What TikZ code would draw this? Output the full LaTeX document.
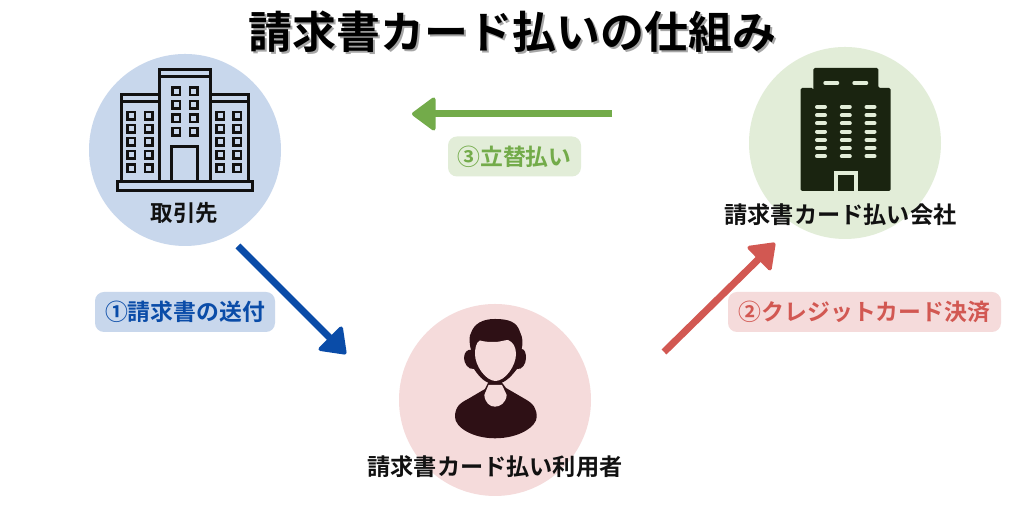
\documentclass[tikz,border=0pt]{standalone}
\usepackage{fontspec}
\setmainfont{Noto Sans CJK JP}[BoldFont={* Bold}]
\usetikzlibrary{arrows.meta, positioning}
\definecolor{clientblue}{RGB}{200, 215, 236}
\definecolor{arrowblue}{RGB}{10, 76, 168}
\definecolor{payergreen}{RGB}{226, 237, 216}
\definecolor{arrowgreen}{RGB}{115, 171, 74}
\definecolor{userpink}{RGB}{245, 219, 219}
\definecolor{arrowred}{RGB}{210, 88, 82}
\definecolor{inkblack}{RGB}{17, 17, 17}
\definecolor{inkgreen}{RGB}{26, 36, 16}
\definecolor{inkbrown}{RGB}{46, 16, 21}

\begin{document}
\begin{tikzpicture}[
        party/.style={circle, minimum size=1.92cm, inner sep=0pt},
        partylabel/.style={inner sep=0pt, text=inkblack, font=\fontsize{6.6}{8}\selectfont\bfseries},
        flow/.style={-{Triangle[round, length=0.25cm, width=0.36cm, line width=0.04cm]}, line width=0.07cm},
        tag/.style={rounded corners=0.09cm, minimum height=0.4cm, inner sep=0pt, font=\fontsize{6.5}{8}\selectfont\bfseries},
        wing/.style={draw=inkblack, line width=0.03cm, fill=clientblue},
        pane/.style={draw=inkblack, line width=0.025cm, minimum size=0.075cm, inner sep=0pt},
        slot/.style={line width=0.04cm, line cap=round, draw=payergreen}
    ]
        \useasboundingbox[fill=white] (0, 0) rectangle (10.24, 5.12);

        \node[party, fill=clientblue] (client) at (1.85, 3.62) {};
        \node[party, fill=payergreen] (company) at (8.45, 3.69) {};
        \node[party, fill=userpink] (user) at (4.95, 1.12) {};

        \node[gray!70, font=\fontsize{12.5}{14}\selectfont\bfseries] (titleshadow) at (5.145, 4.785) {請求書カード払いの仕組み};
        \node[black, font=\fontsize{12.5}{14}\selectfont\bfseries] (title) at (5.125, 4.805) {請求書カード払いの仕組み};

        \draw[wing] (1.217, 3.303) rectangle (2.483, 4.17);
        \draw[wing] (1.593, 3.303) rectangle (2.1, 4.427);
        \draw[inkblack, line width=0.03cm] (1.593, 4.353) -- (2.1, 4.353);
        \draw[inkblack, line width=0.03cm] (1.217, 4.10) -- (1.593, 4.10);
        \draw[inkblack, line width=0.03cm] (2.1, 4.10) -- (2.483, 4.10);
        \foreach \py in {4.207, 4.07, 3.937, 3.803} {
            \node[pane] (pc) at (1.763, \py) {};
            \node[pane] (pd) at (1.937, \py) {};
        }
        \foreach \py in {3.963, 3.833, 3.703, 3.57, 3.437} {
            \node[pane] (pa) at (1.313, \py) {};
            \node[pane] (pb) at (1.487, \py) {};
            \node[pane] (pe) at (2.203, \py) {};
            \node[pane] (pf) at (2.37, \py) {};
        }
        \draw[wing] (1.717, 3.303) rectangle (1.977, 3.653);
        \draw[wing] (1.17, 3.213) rectangle (2.527, 3.303);
        \node[partylabel, font=\fontsize{6.4}{8}\selectfont\bfseries] (clientlabel) at (1.845, 2.985) {取引先};

        \fill[inkgreen, rounded corners=0.015cm] (8.133, 4.20) -- (8.133, 4.44) -- (8.783, 4.44) -- (8.783, 4.24) -- (8.907, 4.24) -- (8.907, 3.21) -- (8.007, 3.21) -- (8.007, 4.24) -- (8.133, 4.24) -- cycle;
        \foreach \px in {8.233, 8.523} {
            \draw[slot] (\px + 0.02, 4.29) -- (\px + 0.14, 4.29);
        }
        \foreach \px in {8.21, 8.458, 8.705} {
            \foreach \py in {4.05, 3.967, 3.887, 3.803, 3.72, 3.637, 3.557} {
                \draw[slot] (\px - 0.04, \py) -- (\px + 0.04, \py);
            }
        }
        \fill[payergreen] (8.34, 3.21) rectangle (8.583, 3.41);
        \fill[inkgreen] (8.383, 3.21) rectangle (8.54, 3.37);
        \node[partylabel] (companylabel) at (8.405, 2.97) {請求書カード払い会社};

        \fill[inkbrown] (4.55, 0.95) .. controls (4.55, 1.05) and (4.60, 1.09) .. (4.68, 1.13) -- (4.85, 1.23) -- (4.885, 1.30) -- (5.015, 1.30) -- (5.06, 1.24) -- (5.25, 1.13) .. controls (5.34, 1.08) and (5.367, 1.03) .. (5.367, 0.95) .. controls (5.367, 0.86) and (5.2, 0.737) .. (4.95, 0.737) .. controls (4.72, 0.737) and (4.55, 0.85) .. (4.55, 0.95) -- cycle;
        \fill[userpink] (4.885, 1.27) -- (4.843, 1.17) .. controls (4.85, 1.09) and (4.90, 1.053) .. (4.95, 1.053) .. controls (5.0, 1.053) and (5.06, 1.09) .. (5.067, 1.17) -- (5.02, 1.27) -- cycle;
        \fill[inkbrown] (4.95, 1.28) .. controls (4.86, 1.28) and (4.80, 1.34) .. (4.74, 1.43) .. controls (4.68, 1.42) and (4.64, 1.49) .. (4.64, 1.54) .. controls (4.64, 1.60) and (4.68, 1.63) .. (4.71, 1.62) .. controls (4.69, 1.70) and (4.69, 1.76) .. (4.71, 1.79) .. controls (4.74, 1.88) and (4.82, 1.93) .. (4.95, 1.93) .. controls (5.09, 1.93) and (5.17, 1.90) .. (5.20, 1.80) .. controls (5.23, 1.74) and (5.23, 1.69) .. (5.217, 1.63) .. controls (5.25, 1.63) and (5.26, 1.58) .. (5.26, 1.54) .. controls (5.26, 1.48) and (5.22, 1.42) .. (5.17, 1.43) .. controls (5.10, 1.34) and (5.04, 1.28) .. (4.95, 1.28) -- cycle;
        \fill[userpink] (4.75, 1.58) .. controls (4.75, 1.63) and (4.76, 1.70) .. (4.80, 1.715) .. controls (4.85, 1.70) and (4.90, 1.70) .. (4.95, 1.70) .. controls (5.0, 1.70) and (5.05, 1.72) .. (5.08, 1.72) .. controls (5.13, 1.70) and (5.16, 1.65) .. (5.16, 1.58) .. controls (5.16, 1.46) and (5.05, 1.31) .. (4.955, 1.31) .. controls (4.86, 1.31) and (4.75, 1.46) .. (4.75, 1.58) -- cycle;
        \node[partylabel] (userlabel) at (4.95, 0.45) {請求書カード払い利用者};

        \coordinate (sendstart) at (2.38, 2.66);
        \coordinate (sendend) at (3.46, 1.58);
        \coordinate (cardstart) at (6.64, 1.60);
        \coordinate (cardend) at (7.75, 2.69);
        \coordinate (paystart) at (6.12, 3.98);
        \coordinate (payend) at (4.12, 3.98);

        \draw[flow, arrowblue] (sendstart) -- (sendend);
        \draw[flow, arrowred] (cardstart) -- (cardend);
        \draw[flow, arrowgreen] (paystart) -- (payend);

        \node[tag, fill=clientblue, text=arrowblue, minimum width=1.8cm] (sendtag) at (1.85, 2.0) {①請求書の送付};
        \node[tag, fill=userpink, text=arrowred, minimum width=2.73cm] (cardtag) at (8.645, 2.0) {②クレジットカード決済};
        \node[tag, fill=payergreen, text=arrowgreen, minimum width=1.33cm] (paytag) at (5.145, 3.555) {③立替払い};
    \end{tikzpicture}
\end{document}
